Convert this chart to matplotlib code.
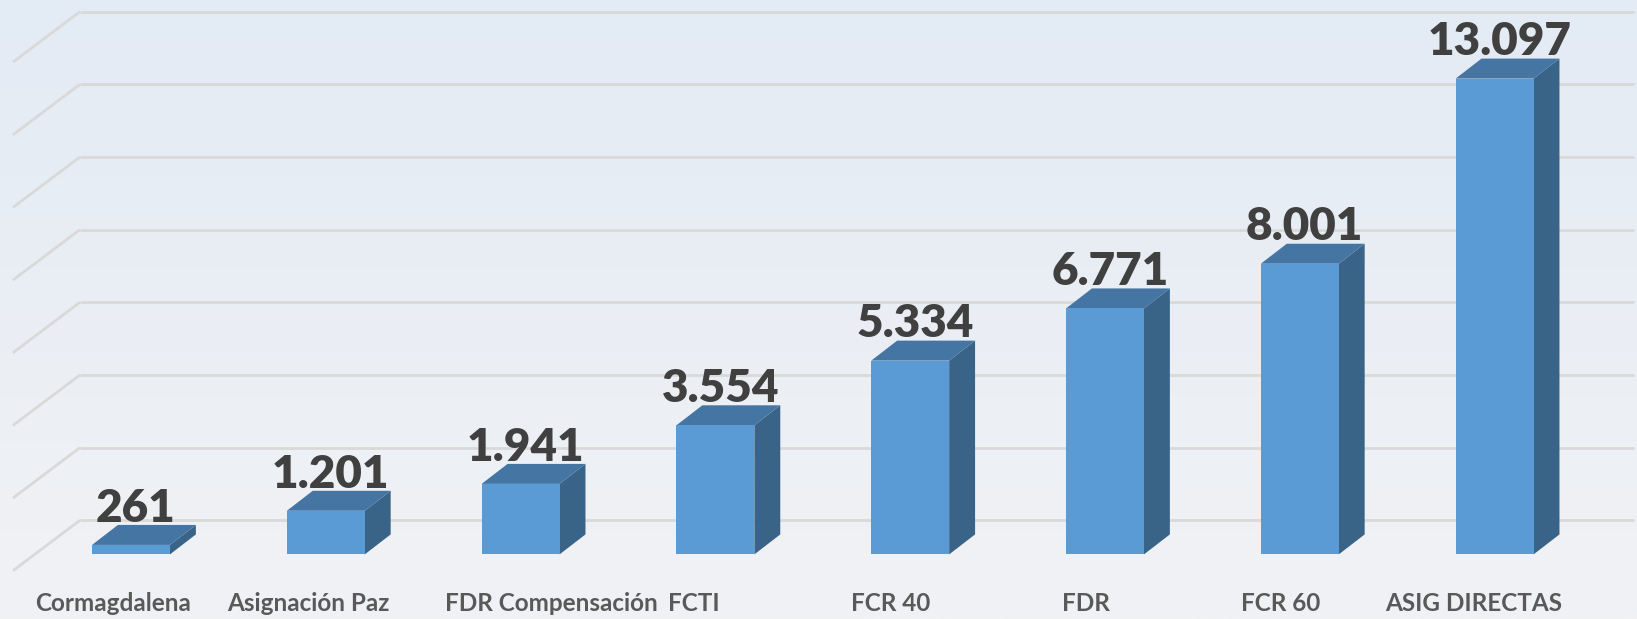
import numpy as np
import matplotlib
matplotlib.use("Agg")
import matplotlib.pyplot as plt
from matplotlib.patches import Polygon, Rectangle
from matplotlib.colors import LinearSegmentedColormap

categories = ["Cormagdalena", "Asignación Paz", "FDR Compensación", "FCTI",
              "FCR 40", "FDR", "FCR 60", "ASIG DIRECTAS"]
values = [261, 1201, 1941, 3554, 5334, 6771, 8001, 13097]
grid_values = [0, 2000, 4000, 6000, 8000, 10000, 12000, 14000]

# style / geometry
label_dx = [-0.09, -0.09, 0.16, -0.11, -0.10, -0.10, -0.10, -0.11]
FRONT = "#5B9BD5"
TOP = "#4575A3"
SIDE = "#3A6388"
GRID = "#D9D9D9"
W = 0.40       # bar width (category units)
DX = 0.133     # depth offset x (category units)
DY = 550       # depth offset y (value units)
WALL_DY = 940
WALL_X0 = -0.262
SIDE_DX = -0.344
SIDE_DY = -1390

fig = plt.figure(figsize=(16.37, 6.19), dpi=100)
ax = fig.add_axes([0, 0, 1, 1])
xlim = (-0.6725, 7.731)
ylim = (-1778, 15260)
ax.set_xlim(*xlim)
ax.set_ylim(*ylim)
ax.axis("off")

# background gradient
cmap = LinearSegmentedColormap.from_list("bg", ["#F1F2F4", "#E3EBF5"])
grad = np.linspace(0, 1, 256).reshape(-1, 1)
ax.imshow(grad, extent=[xlim[0], xlim[1], ylim[0], ylim[1]], origin="lower",
          aspect="auto", cmap=cmap, zorder=0)

# gridlines on back wall + side wall diagonals
for g in grid_values:
    yw = g + WALL_DY
    ax.plot([WALL_X0, xlim[1] - 0.015], [yw, yw], color=GRID, lw=2.0,
            zorder=1, solid_capstyle="butt")
    ax.plot([WALL_X0 + SIDE_DX, WALL_X0], [yw + SIDE_DY, yw], color=GRID,
            lw=2.0, zorder=1, solid_capstyle="butt")

# bars
for i, v in enumerate(values):
    x0, x1 = i - W / 2, i + W / 2
    side = Polygon([(x1, 0), (x1 + DX, DY), (x1 + DX, v + DY), (x1, v)],
                   closed=True, facecolor=SIDE, edgecolor="none", zorder=3)
    top = Polygon([(x0, v), (x1, v), (x1 + DX, v + DY), (x0 + DX, v + DY)],
                  closed=True, facecolor=TOP, edgecolor="none", zorder=3)
    front = Rectangle((x0, 0), W, v, facecolor=FRONT, edgecolor="none",
                      zorder=4)
    ax.add_patch(side)
    ax.add_patch(top)
    ax.add_patch(front)
    txt = f"{v:,}".replace(",", ".")
    ax.text(i + 0.025, v + DY + 90, txt, ha="center", va="baseline",
            fontsize=33, fontweight="heavy", color="#404040",
            family="Lato", zorder=5)

for i, c in enumerate(categories):
    ax.text(i + label_dx[i], -1340, c, ha="center", va="center",
            fontsize=17.5, fontweight="bold", color="#595959",
            family="Lato", zorder=5)

fig.savefig("out.png", dpi=100)
